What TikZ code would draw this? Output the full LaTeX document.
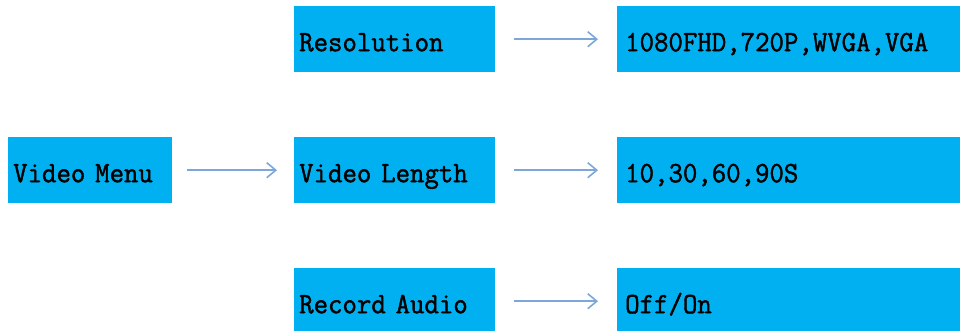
\documentclass[tikz,border=0pt]{standalone}
\usepackage{fontspec}
\setmonofont[FakeBold=1.4,FakeStretch=0.95]{Latin Modern Mono}
\usetikzlibrary{arrows.meta}
\definecolor{boxblue}{HTML}{00B0F0}
\definecolor{arrblue}{HTML}{7DA7D9}
\begin{document}
\begin{tikzpicture}[x=1pt,y=-1pt,
  box/.style={fill=boxblue, draw=none, inner xsep=#1, inner ysep=0pt,
    minimum height=66pt, align=left, anchor=north west,
    text height=26pt, text depth=2pt,
    font=\fontsize{29.5}{30}\selectfont\ttfamily},
  box/.default=5pt,
  link/.style={draw=arrblue, line width=1.6pt,
    -{Straight Barb[length=9pt,width=15pt,line width=1.6pt]}}
]
\useasboundingbox (0,0) rectangle (965,330);
\clip (0,0) rectangle (965,330);
\node[box, text width=154pt] (vm) at (8,137) {Video Menu};
\node[box, text width=191pt] (res) at (294,6) {Resolution};
\node[box, text width=191pt] (len) at (294,137) {Video Length};
\node[box, text width=191pt] (aud) at (294,268) {Record Audio};
\node[box=8pt, text width=327pt] (resv) at (617,6) {1080FHD,720P,WVGA,VGA};
\node[box=8pt, text width=327pt] (lenv) at (617,137) {10,30,60,90S};
\node[box=8pt, text width=327pt] (audv) at (617,268) {Off/On};
\draw[link, shorten <=15pt, shorten >=17pt] (vm.east) -- (len.west);
\draw[link, shorten <=19pt, shorten >=19pt] (res.east) -- (resv.west);
\draw[link, shorten <=19pt, shorten >=19pt] (len.east) -- (lenv.west);
\draw[link, shorten <=19pt, shorten >=19pt] (aud.east) -- (audv.west);
\end{tikzpicture}
\end{document}
